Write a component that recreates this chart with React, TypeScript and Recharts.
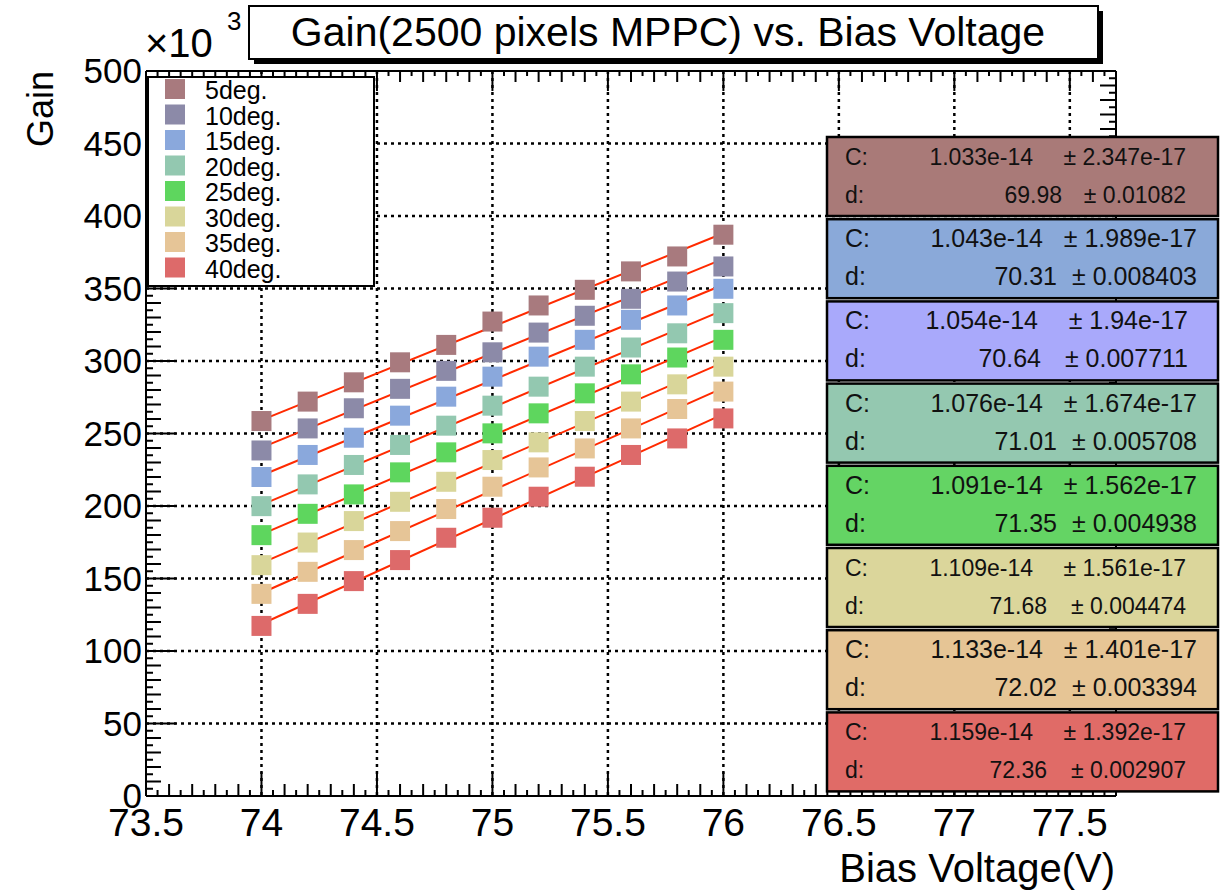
import React from 'react';
import { ComposedChart, Scatter, Line, XAxis, YAxis, CartesianGrid } from 'recharts';

const FONT = '"Liberation Sans", Arial, Helvetica, sans-serif';

// bias voltage steps (V)
const VOLTAGES = [74.0, 74.2, 74.4, 74.6, 74.8, 75.0, 75.2, 75.4, 75.6, 75.8, 76.0];

const TEMPS = ['5deg.', '10deg.', '15deg.', '20deg.', '25deg.', '30deg.', '35deg.', '40deg.'];

// measured gain, x10^3
const GAIN_5 = [258.6, 272.0, 285.3, 299.1, 311.1, 327.2, 338.3, 349.1, 361.8, 372.1, 387.1];
const GAIN_10 = [238.3, 253.5, 267.4, 280.8, 293.2, 306.0, 319.6, 331.2, 342.9, 354.8, 365.2];
const GAIN_15 = [220.0, 235.2, 247.1, 262.3, 275.4, 289.2, 303.0, 314.6, 328.4, 338.3, 349.8];
const GAIN_20 = [199.9, 214.9, 228.3, 242.1, 255.4, 269.2, 282.3, 296.1, 309.3, 319.1, 333.0];
const GAIN_25 = [179.9, 194.6, 208.0, 223.2, 237.0, 250.1, 263.9, 277.7, 290.8, 302.4, 314.6];
const GAIN_30 = [159.2, 174.8, 189.6, 202.9, 216.7, 231.7, 243.9, 258.6, 272.0, 283.9, 296.1];
const GAIN_35 = [139.4, 154.6, 169.6, 182.7, 197.9, 213.3, 226.6, 239.7, 253.5, 266.9, 278.9];
const GAIN_40 = [117.3, 132.5, 148.2, 162.7, 178.1, 191.9, 206.4, 220.2, 235.2, 246.6, 260.4];

// fit results: gain = C/e * (V - d)
const FIT_C = [1.033e-14, 1.043e-14, 1.054e-14, 1.076e-14, 1.091e-14, 1.109e-14, 1.133e-14, 1.159e-14];
const FIT_C_ERR = ['2.347e-17', '1.989e-17', '1.94e-17', '1.674e-17', '1.562e-17', '1.561e-17', '1.401e-17', '1.392e-17'];
const FIT_D = [69.98, 70.31, 70.64, 71.01, 71.35, 71.68, 72.02, 72.36];
const FIT_D_ERR = ['0.01082', '0.008403', '0.007711', '0.005708', '0.004938', '0.004474', '0.003394', '0.002907'];
const FIT_RANGE = [74.0, 76.0];

const X_MAJOR = [73.5, 74, 74.5, 75, 75.5, 76, 76.5, 77, 77.5];
const Y_MAJOR = [0, 50, 100, 150, 200, 250, 300, 350, 400, 450, 500];

const ELECTRON = 1.602177e-19;

const GAINS = [GAIN_5, GAIN_10, GAIN_15, GAIN_20, GAIN_25, GAIN_30, GAIN_35, GAIN_40];
const MARKER_COLORS = ['#a87a7e', '#8c8aa8', '#8aa8dc', '#93c8b0', '#5ed65e', '#d9d69a', '#e6c597', '#dd6a6a'];
const BOX_COLORS = ['#a97a78', '#8aa9d9', '#a9a9fb', '#94c8b0', '#64d464', '#dbd69b', '#e6c595', '#e06b67'];

// stat box text placement: [font size, C value end, d value end, error end]
const BOX_TEXT = [
  [23, 1033, 1062, 1186],
  [25, 1043, 1057, 1197],
  [25, 1038, 1041, 1188],
  [25, 1043, 1057, 1197],
  [25, 1043, 1057, 1197],
  [23, 1033, 1047, 1186],
  [25, 1043, 1057, 1197],
  [23, 1033, 1047, 1186],
];

const X_DOMAIN: [number, number] = [73.5, 77.7];
const Y_DOMAIN: [number, number] = [0, 500];
const X_TICKS = Array.from({ length: 85 }, (_, i) => 73.5 + i * 0.05);
const Y_TICKS = Array.from({ length: 101 }, (_, i) => i * 5);

const scatterData = GAINS.map((g) => VOLTAGES.map((v, i) => ({ v, g: g[i] })));
const fitData = FIT_C.map((c, i) =>
  FIT_RANGE.map((v) => ({ v, g: ((c / ELECTRON) * (v - FIT_D[i])) / 1000 }))
);

const xLevel = (v: number) => {
  const k = Math.round((v - 73.5) * 20);
  return k % 10 === 0 ? 0 : k % 2 === 0 ? 1 : 2;
};
const yLevel = (v: number) => {
  const k = Math.round(v / 5);
  return k % 10 === 0 ? 0 : k % 2 === 0 ? 1 : 2;
};

const BottomTick = (props: any) => {
  const { x, y, payload } = props;
  const lvl = xLevel(payload.value);
  const len = [24, 12, 6][lvl];
  const label = String(Math.round(payload.value * 2) / 2);
  return (
    <g>
      <line x1={x} y1={y} x2={x} y2={y - len} stroke="#000" strokeWidth={2} />
      {lvl === 0 && (
        <text x={x} y={y + 40} textAnchor="middle" fontSize={39} fontFamily={FONT} fill="#000">
          {label}
        </text>
      )}
    </g>
  );
};

const TopTick = (props: any) => {
  const { x, y, payload } = props;
  const len = [20, 11, 5][xLevel(payload.value)];
  return <line x1={x} y1={y} x2={x} y2={y + len} stroke="#000" strokeWidth={2} />;
};

const LeftTick = (props: any) => {
  const { x, y, payload } = props;
  const lvl = yLevel(payload.value);
  const len = [30, 15, 7][lvl];
  return (
    <g>
      <line x1={x} y1={y} x2={x + len} y2={y} stroke="#000" strokeWidth={2} />
      {lvl === 0 && (
        <text x={x - 4} y={y + 12} textAnchor="end" fontSize={35} fontFamily={FONT} fill="#000">
          {Math.round(payload.value)}
        </text>
      )}
    </g>
  );
};

const RightTick = (props: any) => {
  const { x, y, payload } = props;
  const len = [30, 16, 7][yLevel(payload.value)];
  return <line x1={x} y1={y} x2={x - len} y2={y} stroke="#000" strokeWidth={2} />;
};

const square = (color: string) => (p: any) =>
  <rect x={p.cx - 10} y={p.cy - 10} width={20} height={20} fill={color} />;

function Overlay() {
  return (
    <svg
      width={1220}
      height={895}
      style={{ position: 'absolute', left: 0, top: 0, pointerEvents: 'none' }}
      fontFamily={FONT}
    >
      {/* title */}
      <rect x={254} y={11} width={849} height={53} fill="#000" />
      <rect x={249} y={6} width={849} height={53} fill="#fff" stroke="#000" strokeWidth={2} />
      <text x={668} y={46} textAnchor="middle" fontSize={41} fill="#000">
        Gain(2500 pixels MPPC) vs. Bias Voltage
      </text>

      {/* exponent */}
      <text x={145} y={57} fontSize={40} fill="#000">×10</text>
      <text x={227} y={30} fontSize={26} fill="#000">3</text>

      {/* axis titles */}
      <text x={1115} y={882} textAnchor="end" fontSize={40} fill="#000">Bias Voltage(V)</text>
      <text transform="translate(53,71) rotate(-90)" textAnchor="end" fontSize={36} fill="#000">Gain</text>

      {/* legend */}
      <rect x={148} y={77} width={226} height={209} fill="#fff" stroke="#000" strokeWidth={2} />
      {TEMPS.map((t, i) => {
        const cy = 89 + i * 25.5;
        return (
          <g key={t}>
            <rect x={165} y={cy - 10} width={20} height={20} fill={MARKER_COLORS[i]} />
            <text x={205} y={cy + 10} fontSize={25} fill="#000">{t}</text>
          </g>
        );
      })}

      {/* fit parameter boxes */}
      {FIT_C.map((c, i) => {
        const top = 137 + i * 82.2;
        const [fs, cEnd, dEnd, errEnd] = BOX_TEXT[i];
        return (
          <g key={i} fontSize={fs} fill="#111">
            <rect x={827} y={top} width={391} height={79} fill={BOX_COLORS[i]} stroke="#000" strokeWidth={2.5} />
            <text x={845} y={top + 28}>C:</text>
            <text x={cEnd} y={top + 28} textAnchor="end">{c.toExponential(3)}</text>
            <text x={errEnd} y={top + 28} textAnchor="end">± {FIT_C_ERR[i]}</text>
            <text x={845} y={top + 66}>d:</text>
            <text x={dEnd} y={top + 66} textAnchor="end">{FIT_D[i].toFixed(2)}</text>
            <text x={errEnd} y={top + 66} textAnchor="end">± {FIT_D_ERR[i]}</text>
          </g>
        );
      })}
    </svg>
  );
}

export default function App() {
  return (
    <div style={{ position: 'absolute', left: 0, top: 0, width: 1220, height: 895, background: '#fff' }}>
      <ComposedChart
        width={1220}
        height={895}
        margin={{ top: 61, right: 94, left: 96, bottom: 59 }}
      >
        <CartesianGrid
          horizontalValues={Y_MAJOR.slice(1, -1)}
          verticalValues={X_MAJOR.slice(1)}
          stroke="#000"
          strokeWidth={2.5}
          strokeDasharray="3 4"
        />
        <XAxis
          dataKey="v"
          type="number"
          domain={X_DOMAIN}
          allowDataOverflow
          ticks={X_TICKS}
          interval={0}
          height={40}
          tickSize={0}
          tickMargin={0}
          tickLine={false}
          tick={BottomTick}
          axisLine={{ stroke: '#000', strokeWidth: 2 }}
        />
        <XAxis
          xAxisId="top"
          orientation="top"
          dataKey="v"
          type="number"
          domain={X_DOMAIN}
          allowDataOverflow
          ticks={X_TICKS}
          interval={0}
          height={10}
          tickSize={0}
          tickMargin={0}
          tickLine={false}
          tick={TopTick}
          axisLine={{ stroke: '#000', strokeWidth: 2 }}
        />
        <YAxis
          type="number"
          domain={Y_DOMAIN}
          allowDataOverflow
          ticks={Y_TICKS}
          interval={0}
          width={50}
          tickSize={0}
          tickMargin={0}
          tickLine={false}
          tick={LeftTick}
          axisLine={{ stroke: '#000', strokeWidth: 2 }}
        />
        <YAxis
          yAxisId="right"
          orientation="right"
          type="number"
          domain={Y_DOMAIN}
          allowDataOverflow
          ticks={Y_TICKS}
          interval={0}
          width={10}
          tickSize={0}
          tickMargin={0}
          tickLine={false}
          tick={RightTick}
          axisLine={{ stroke: '#000', strokeWidth: 2 }}
        />
        {scatterData.map((d, i) => (
          <Scatter
            key={TEMPS[i]}
            name={TEMPS[i]}
            data={d}
            dataKey="g"
            shape={square(MARKER_COLORS[i])}
            isAnimationActive={false}
          />
        ))}
        {fitData.map((d, i) => (
          <Line
            key={'fit' + i}
            data={d}
            dataKey="g"
            type="linear"
            stroke="#ff2a00"
            strokeWidth={2}
            dot={false}
            activeDot={false}
            isAnimationActive={false}
          />
        ))}
      </ComposedChart>
      <Overlay />
    </div>
  );
}
